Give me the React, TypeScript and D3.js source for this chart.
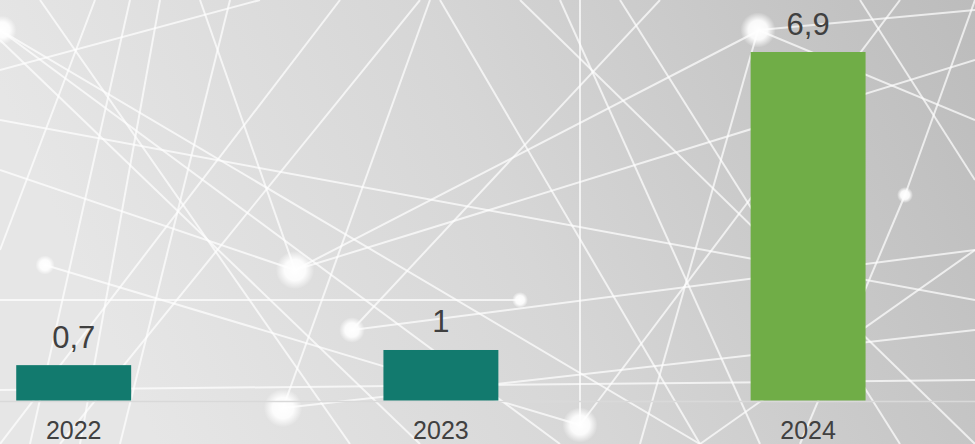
import { useRef, useEffect } from "react";
import * as d3 from "d3";

const years = ["2022", "2023", "2024"];
const values = [0.7, 1, 6.9];
const valueLabels = ["0,7", "1", "6,9"];
const barColors = ["#127a6e", "#127a6e", "#70ad47"];

// background decoration (network pattern), not data
const bgNodes = [
  [2, 30, 9], [758, 30, 11], [295, 270, 12], [352, 330, 8], [283, 408, 12],
  [580, 425, 11], [45, 265, 6], [905, 195, 5], [520, 300, 5],
];
const bgLines = [
  [0, 30, 560, 444], [0, 30, 700, 444], [0, 40, 420, 444], [0, 70, 260, 0],
  [40, 0, 350, 444], [95, 0, 0, 250], [130, 0, 30, 444], [160, 0, 80, 444],
  [0, 170, 295, 270], [45, 265, 580, 425], [0, 300, 520, 300], [200, 0, 295, 270],
  [295, 270, 975, 60], [295, 270, 760, 30], [352, 330, 660, 0], [352, 330, 975, 250],
  [283, 408, 975, 330], [283, 408, 430, 0], [580, 425, 900, 0], [580, 425, 580, 0],
  [520, 0, 975, 444], [560, 0, 760, 444], [620, 0, 900, 444], [758, 30, 975, 120],
  [758, 30, 640, 444], [758, 30, 975, 10], [905, 195, 975, 0], [905, 195, 800, 444],
  [340, 0, 0, 444], [230, 0, 120, 444], [0, 390, 975, 380], [440, 0, 700, 444],
  [0, 120, 975, 300], [60, 444, 420, 0], [860, 0, 975, 180], [975, 250, 700, 444],
];

const App = () => {
  const container = useRef<SVGSVGElement>(null);

  useEffect(() => {
    const width = 975;
    const height = 444;
    const baseline = 400.5;

    const svg = d3.select(container.current);
    svg.selectAll("*").remove();

    const defs = svg.append("defs");
    const grad = defs
      .append("linearGradient")
      .attr("id", "bg-grad")
      .attr("x1", "0%").attr("y1", "20%")
      .attr("x2", "100%").attr("y2", "0%");
    grad.append("stop").attr("offset", "0%").attr("stop-color", "#e6e6e6");
    grad.append("stop").attr("offset", "45%").attr("stop-color", "#d6d6d6");
    grad.append("stop").attr("offset", "100%").attr("stop-color", "#bcbcbc");

    const glow = defs.append("radialGradient").attr("id", "node-glow");
    glow.append("stop").attr("offset", "0%").attr("stop-color", "#ffffff").attr("stop-opacity", 1);
    glow.append("stop").attr("offset", "55%").attr("stop-color", "#ffffff").attr("stop-opacity", 0.9);
    glow.append("stop").attr("offset", "100%").attr("stop-color", "#ffffff").attr("stop-opacity", 0);

    svg.append("rect").attr("width", width).attr("height", height).attr("fill", "url(#bg-grad)");

    const deco = svg.append("g");
    deco
      .selectAll("line")
      .data(bgLines)
      .join("line")
      .attr("x1", (d) => d[0]).attr("y1", (d) => d[1])
      .attr("x2", (d) => d[2]).attr("y2", (d) => d[3])
      .attr("stroke", "#ffffff")
      .attr("stroke-opacity", 0.7)
      .attr("stroke-width", 2);
    deco
      .selectAll("circle")
      .data(bgNodes)
      .join("circle")
      .attr("cx", (d) => d[0]).attr("cy", (d) => d[1])
      .attr("r", (d) => d[2] * 1.6)
      .attr("fill", "url(#node-glow)");

    const xScale = d3
      .scaleBand()
      .domain(years)
      .range([-109.9, 991.7])
      .paddingInner(0.687)
      .paddingOuter(0.3435);

    const yScale = d3.scaleLinear().domain([0, 6.9]).range([baseline, 52]);

    const data = years.map((y, i) => ({ year: y, val: values[i], label: valueLabels[i], color: barColors[i] }));

    svg
      .append("line")
      .attr("x1", 0).attr("x2", width)
      .attr("y1", baseline + 1).attr("y2", baseline + 1)
      .attr("stroke", "#d9d9d9")
      .attr("stroke-width", 1.5);

    svg
      .selectAll(".bar")
      .data(data)
      .join("rect")
      .attr("class", "bar")
      .attr("x", (d) => xScale(d.year)!)
      .attr("width", xScale.bandwidth())
      .attr("y", (d) => yScale(d.val))
      .attr("height", (d) => baseline - yScale(d.val))
      .attr("fill", (d) => d.color);

    svg
      .selectAll(".val-label")
      .data(data)
      .join("text")
      .attr("class", "val-label")
      .attr("x", (d) => xScale(d.year)! + xScale.bandwidth() / 2)
      .attr("y", (d) => yScale(d.val) - 17.5)
      .attr("text-anchor", "middle")
      .attr("font-family", "Liberation Sans, Arial, sans-serif")
      .attr("font-size", 31)
      .attr("fill", "#404040")
      .text((d) => d.label);

    svg
      .selectAll(".x-label")
      .data(data)
      .join("text")
      .attr("class", "x-label")
      .attr("x", (d) => xScale(d.year)! + xScale.bandwidth() / 2)
      .attr("y", 439)
      .attr("text-anchor", "middle")
      .attr("font-family", "Liberation Sans, Arial, sans-serif")
      .attr("font-size", 25)
      .attr("fill", "#404040")
      .text((d) => d.year);
  });

  return (
    <div style={{ position: "absolute", left: 0, top: 0 }}>
      <svg ref={container} width={975} height={444} style={{ display: "block" }}></svg>
    </div>
  );
};

export default App;
